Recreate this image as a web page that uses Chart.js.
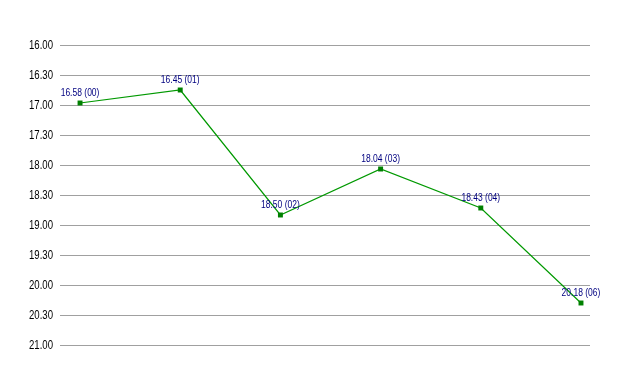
<!DOCTYPE html>
<html><head><meta charset="utf-8">
<script src="https://cdn.jsdelivr.net/npm/chart.js@4"></script>
<style>html,body{margin:0;padding:0;background:#fff}#wrap{width:628px;height:375px}</style>
</head><body><div id="wrap"><canvas id="c"></canvas></div>
<script>
// times as "min.sec" strings, and season codes
const timeLabels = ["16.58", "16.45", "18.50", "18.04", "18.43", "20.18"];
const seasons = ["00", "01", "02", "03", "04", "06"];
const yTicks = [16, 16.5, 17, 17.5, 18, 18.5, 19, 19.5, 20, 20.5, 21];

function toMinutes(s) { const [m, sec] = s.split('.').map(Number); return m + sec / 60; }
function fmt(v) { const m = Math.floor(v + 1e-9); const s = Math.round((v - m) * 60); return m + '.' + String(s).padStart(2, '0'); }

const points = timeLabels.map((t, i) => ({ x: i, y: toMinutes(t) }));
const FONT = '"Liberation Sans", Arial, sans-serif';

function drawNarrow(ctx, text, x, y, sx, align) {
  ctx.save();
  ctx.translate(x, y);
  ctx.scale(sx, 1);
  ctx.textAlign = align;
  ctx.fillText(text, 0, 0);
  ctx.restore();
}

const labelPlugin = {
  id: 'narrowLabels',
  afterDraw(chart) {
    const ctx = chart.ctx;
    const ys = chart.scales.y;
    ctx.save();
    ctx.textBaseline = 'middle';
    ctx.font = '12px ' + FONT;
    ctx.fillStyle = '#000';
    ys.ticks.forEach(t => {
      drawNarrow(ctx, fmt(t.value), 29, ys.getPixelForValue(t.value) + 0.5, 0.8, 'left');
    });
    const meta = chart.getDatasetMeta(0);
    ctx.font = '10px ' + FONT;
    ctx.fillStyle = '#000080';
    meta.data.forEach((el, i) => {
      drawNarrow(ctx, timeLabels[i] + ' (' + seasons[i] + ')', el.x, el.y - 9.5, 0.85, 'center');
    });
    ctx.restore();
  }
};

new Chart(document.getElementById('c'), {
  type: 'line',
  data: { datasets: [{
    data: points,
    borderColor: '#009900', borderWidth: 1.2,
    pointStyle: 'rect', pointRadius: 3.5, pointBackgroundColor: '#008000', pointBorderColor: '#008000', pointBorderWidth: 0,
    tension: 0
  }]},
  options: {
    responsive: true, maintainAspectRatio: false, animation: false,
    layout: { padding: { left: 30, top: 45, right: 38, bottom: 30 } },
    plugins: { legend: { display: false }, tooltip: { enabled: false } },
    scales: {
      x: { type: 'linear', min: -0.2, max: 5.09, display: false },
      y: {
        reverse: true, min: 16, max: 21,
        afterBuildTicks(s) { s.ticks = yTicks.map(v => ({ value: v })); },
        afterFit(s) { s.width = 30; },
        border: { display: false },
        grid: { color: '#a0a0a0', drawTicks: false, lineWidth: 1 },
        ticks: { display: false }
      }
    }
  },
  plugins: [labelPlugin]
});
</script></body></html>
